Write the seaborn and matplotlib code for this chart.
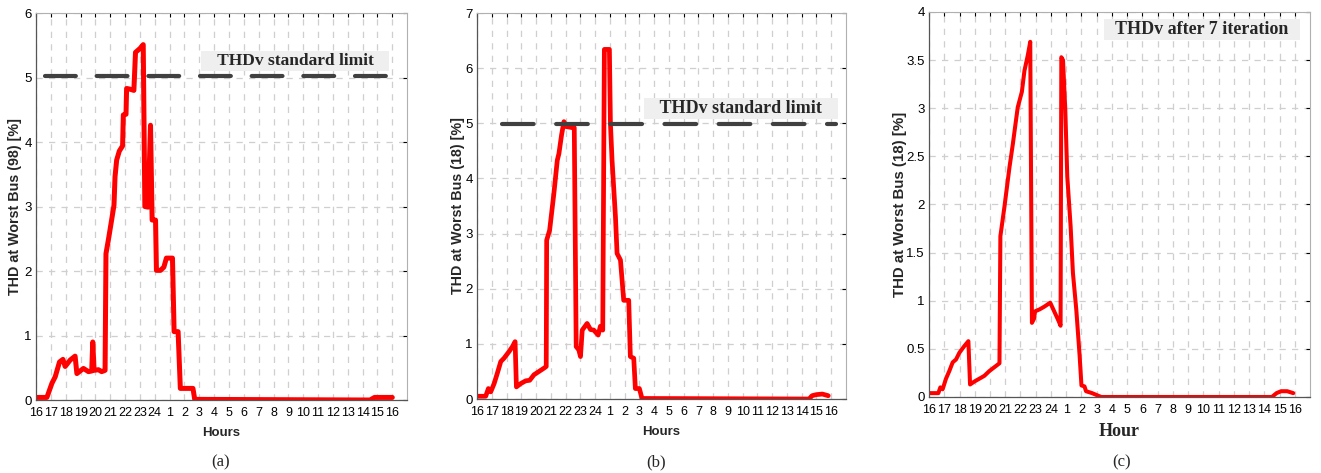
import numpy as np
import pandas as pd
import seaborn as sns
import matplotlib.pyplot as plt
from matplotlib import font_manager

# hour axis: 16:00 of one day to 16:00 of the next
hour_pos = [0, 1, 2, 3, 4, 5, 6, 7, 8, 9, 10, 11, 12, 13, 14, 15, 16, 17, 18, 19, 20, 21, 22, 23, 24]
hour_labels = ['16', '17', '18', '19', '20', '21', '22', '23', '24', '1', '2', '3', '4',
               '5', '6', '7', '8', '9', '10', '11', '12', '13', '14', '15', '16']

# (a) THD at worst bus (98)
hours_a = [0, 0.73, 1.07, 1.29, 1.58, 1.81, 1.96, 2.30, 2.63, 2.75, 3.19, 3.53, 3.75, 3.82, 3.91,
           4.20, 4.42, 4.65, 4.71, 4.87, 5.09, 5.25, 5.32, 5.43, 5.61, 5.83, 5.88, 6.06, 6.10,
           6.32, 6.59, 6.70, 7.00, 7.22, 7.33, 7.55, 7.71, 7.82, 8.05, 8.11, 8.38, 8.61, 8.78,
           9.19, 9.30, 9.57, 9.72, 10.57, 10.69, 22.5, 22.8, 24.0]
thd_a = [0.04, 0.04, 0.26, 0.36, 0.59, 0.63, 0.52, 0.62, 0.68, 0.41, 0.49, 0.44, 0.45, 0.90, 0.46,
         0.47, 0.44, 0.46, 2.27, 2.48, 2.79, 3.02, 3.46, 3.72, 3.86, 3.94, 4.42, 4.43, 4.83,
         4.82, 4.80, 5.39, 5.45, 5.51, 3.00, 2.99, 4.26, 2.79, 2.79, 2.01, 2.01, 2.06, 2.20,
         2.20, 1.06, 1.06, 0.18, 0.18, 0.01, 0.0, 0.04, 0.04]
limit_x_a = [0.6, 23.8]
limit_y_a = [5.03, 5.03]

# (b) THD at worst bus (18)
hours_b = [0.03, 0.59, 0.77, 0.93, 1.16, 1.38, 1.61, 1.83, 2.17, 2.40, 2.58, 2.67, 2.96, 3.30,
           3.57, 3.86, 4.20, 4.54, 4.69, 4.72, 4.92, 5.21, 5.44, 5.55, 5.73, 5.89, 6.05, 6.50,
           6.59, 6.72, 6.90, 7.01, 7.13, 7.46, 7.69, 7.91, 8.21, 8.36, 8.52, 8.63, 8.97, 9.04,
           9.15, 9.38, 9.49, 9.72, 9.94, 10.28, 10.39, 10.62, 10.73, 11.0, 11.18, 22.5, 22.7,
           23.0, 23.4, 23.8]
thd_b = [0.05, 0.05, 0.19, 0.13, 0.28, 0.47, 0.68, 0.74, 0.86, 0.95, 1.04, 0.22, 0.28, 0.33,
         0.34, 0.44, 0.50, 0.56, 0.59, 2.88, 3.06, 3.73, 4.33, 4.45, 4.79, 5.03, 4.94, 4.92,
         4.92, 0.95, 0.89, 0.77, 1.25, 1.37, 1.26, 1.25, 1.16, 1.32, 1.25, 6.34, 6.34, 5.0,
         4.33, 3.31, 2.64, 2.52, 1.79, 1.79, 0.77, 0.74, 0.19, 0.19, 0.01, 0.0, 0.06,
         0.08, 0.09, 0.06]
limit_x_b = [1.7, 24.3]
limit_y_b = [4.98, 4.98]

# (c) THD at worst bus (18) after 7 iterations
hours_c = [0.01, 0.61, 0.74, 0.89, 1.11, 1.33, 1.55, 1.77, 1.99, 2.32, 2.58, 2.69, 2.97, 3.30,
           3.63, 3.96, 4.29, 4.62, 4.68, 4.95, 5.28, 5.50, 5.65, 5.82, 6.09, 6.26, 6.48, 6.64,
           6.75, 6.88, 6.96, 7.25, 7.58, 7.95, 8.24, 8.50, 8.63, 8.68, 8.79, 8.94, 9.07, 9.29,
           9.44, 9.66, 9.88, 10.0, 10.2, 10.3, 10.7, 11.0, 11.3, 22.5, 22.8, 23.1, 23.5, 23.9]
thd_c = [0.04, 0.04, 0.10, 0.08, 0.19, 0.27, 0.36, 0.39, 0.46, 0.53, 0.58, 0.13, 0.16, 0.19,
         0.22, 0.27, 0.31, 0.35, 1.67, 1.98, 2.39, 2.63, 2.81, 3.01, 3.17, 3.39, 3.55, 3.69,
         0.77, 0.81, 0.89, 0.91, 0.94, 0.98, 0.88, 0.79, 0.74, 3.53, 3.50, 2.98, 2.29, 1.77,
         1.29, 0.91, 0.43, 0.12, 0.11, 0.06, 0.04, 0.02, 0.0, 0.0, 0.04, 0.06, 0.06, 0.04]

yticks_a = [0, 1, 2, 3, 4, 5, 6]
yticks_b = [0, 1, 2, 3, 4, 5, 6, 7]
yticks_c = [0, 0.5, 1, 1.5, 2, 2.5, 3, 3.5, 4]
ylabels_c = ['0', '0.5', '1', '1.5', '2', '2.5', '3', '3.5', '4']

sns.set_style('white')
names = {f.name for f in font_manager.fontManager.ttflist}
narrow = 'Liberation Sans Narrow' if 'Liberation Sans Narrow' in names else 'Liberation Sans'
tick_size = 10 if narrow == 'Liberation Sans Narrow' else 9
plt.rcParams['font.family'] = ['Liberation Sans', 'DejaVu Sans']

fig = plt.figure(figsize=(13.21, 4.73), dpi=100)
ax_a = fig.add_axes([0.0273, 0.1543, 0.2809, 0.8182])
ax_b = fig.add_axes([0.3611, 0.1564, 0.2793, 0.8161])
ax_c = fig.add_axes([0.7033, 0.1607, 0.2884, 0.8140])


def style_axes(ax, yticks, ylim):
    ax.set_xlim(0, 25)
    ax.set_ylim(*ylim)
    ax.set_xticks(hour_pos)
    ax.set_xticklabels(hour_labels, family=narrow, fontsize=tick_size)
    ax.set_yticks(yticks)
    for t in ax.get_yticklabels():
        t.set_family(narrow)
        t.set_fontsize(tick_size + 0.5)
    ax.grid(True, linestyle=(0, (5, 5)), color='#cfcfcf', linewidth=0.9)
    ax.set_axisbelow(True)
    ax.tick_params(direction='in', length=3, width=0.8, top=True, right=True,
                   colors='black', pad=3)
    ax.tick_params(axis='x', pad=5)
    for s in ['left', 'bottom']:
        ax.spines[s].set_color('#555555')
        ax.spines[s].set_linewidth(0.9)
    for s in ['top', 'right']:
        ax.spines[s].set_color('#b0b0b0')
        ax.spines[s].set_linewidth(0.8)


box = dict(facecolor='#efefef', edgecolor='none', boxstyle='square,pad=0.12')
nb = '\u00a0'

# (a)
sns.lineplot(x=hours_a, y=thd_a, ax=ax_a, color='#ff0000', linewidth=3.6,
             sort=False, estimator=None)
ax_a.plot(limit_x_a, limit_y_a, color='#404040', linewidth=3,
          linestyle=(0, (7.4, 5.0)), dash_capstyle='round')
style_axes(ax_a, yticks_a, (0, 6))
ax_a.text(17.45, 5.26, nb * 3 + 'THDv standard limit' + nb * 3, family='Liberation Serif',
          fontsize=12.5, fontweight='bold', ha='center', va='center', bbox=box)
ax_a.set_ylabel('THD at Worst Bus (98) [%]', fontsize=10.3, fontweight='bold')
ax_a.yaxis.set_label_coords(-0.038, 0.5)
ax_a.set_xlabel('Hours', family=narrow, fontsize=9.5, fontweight='bold')
ax_a.xaxis.set_label_coords(0.5, -0.07)

# (b)
sns.lineplot(x=hours_b, y=thd_b, ax=ax_b, color='#ff0000', linewidth=3.4,
             sort=False, estimator=None)
ax_b.plot(limit_x_b, limit_y_b, color='#404040', linewidth=3,
          linestyle=(0, (7.6, 5.4)), dash_capstyle='round')
style_axes(ax_b, yticks_b, (0, 7))
ax_b.text(17.9, 5.27, nb * 3 + 'THDv standard limit' + nb * 3, family='Liberation Serif',
          fontsize=13, fontweight='bold', ha='center', va='center', bbox=box)
ax_b.set_ylabel('THD at Worst Bus (18) [%]', fontsize=10.3, fontweight='bold')
ax_b.yaxis.set_label_coords(-0.033, 0.5)
ax_b.set_xlabel('Hours', family=narrow, fontsize=9.5, fontweight='bold')
ax_b.xaxis.set_label_coords(0.5, -0.07)

# (c)
sns.lineplot(x=hours_c, y=thd_c, ax=ax_c, color='#ff0000', linewidth=2.9,
             sort=False, estimator=None)
style_axes(ax_c, yticks_c, (0, 4))
ax_c.set_yticklabels(ylabels_c, family=narrow, fontsize=tick_size + 0.5)
ax_c.text(17.9, 3.82, nb * 2 + 'THDv after 7 iteration' + nb * 2, family='Liberation Serif',
          fontsize=13, fontweight='bold', ha='center', va='center', bbox=box)
ax_c.set_ylabel('THD at Worst Bus (18) [%]', fontsize=10.8, fontweight='bold')
ax_c.yaxis.set_label_coords(-0.058, 0.5)
ax_c.set_xlabel('Hour', family='Liberation Serif', fontsize=13, fontweight='bold')
ax_c.xaxis.set_label_coords(0.5, -0.0675)

for label, xc in [('(a)', 221), ('(b)', 656), ('(c)', 1122)]:
    fig.text(xc / 1321, 1 - 462 / 473, label, family='Liberation Serif', fontsize=12,
             ha='center', va='center')

fig.savefig('out.png', dpi=100)
